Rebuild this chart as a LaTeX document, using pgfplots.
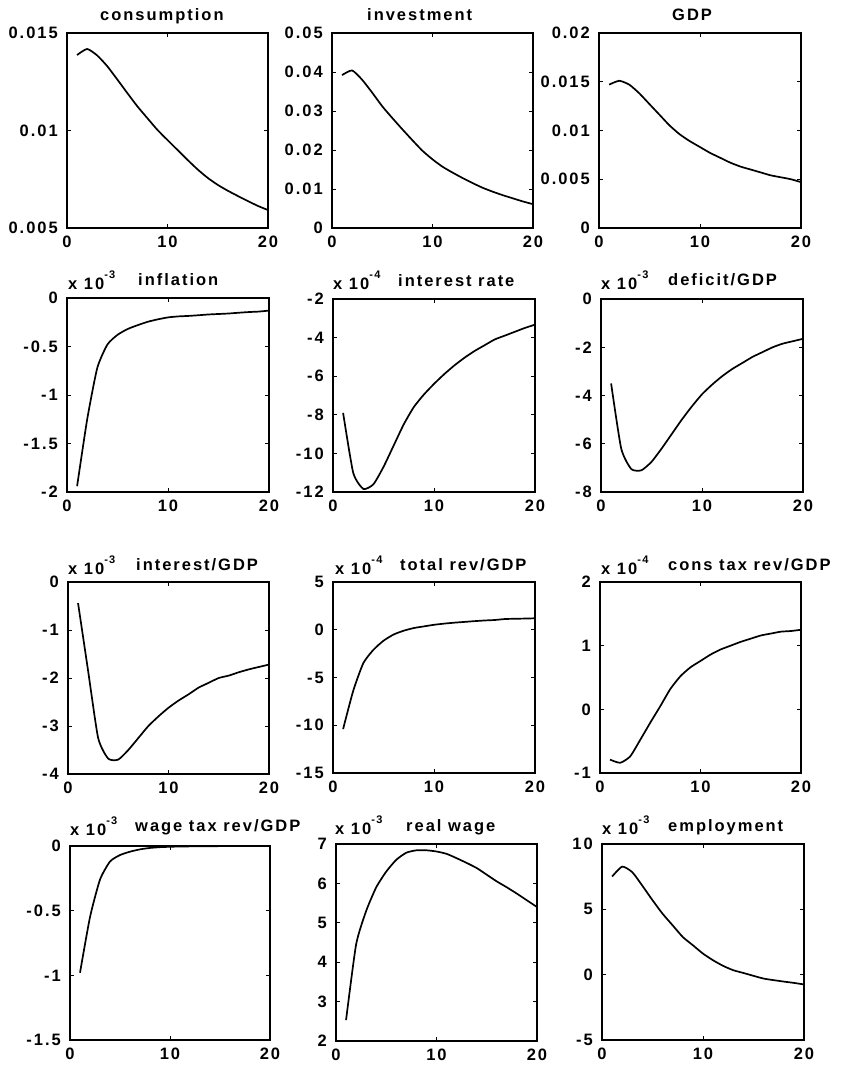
\documentclass[border=0pt]{standalone}
\usepackage{fontspec}
\setmainfont{Liberation Sans}
\newfontfamily\lab[LetterSpace=12]{Liberation Sans}
\usepackage{pgfplots}
\pgfplotsset{compat=1.18}
\newcommand\tf{\lab\bfseries\fontsize{16.5pt}{18pt}\selectfont}
\newcommand\supf{\lab\bfseries\fontsize{11pt}{12pt}\selectfont}
\newcommand\expo[1]{x 10\raisebox{11pt}{\supf #1}}
\pgfplotsset{panel/.style={scale only axis, anchor=south west,
  xmin=0, xmax=20, xtick={0,10,20}, xticklabels={0,10,20}, scaled ticks=false,
  axis background/.style={draw=black, line width=2.5pt},
  tick align=inside, major tick length=4pt,
  tick style={line width=0.8pt, black},
  xticklabel style={font=\tf, anchor=north, inner sep=0pt, yshift=-8pt},
  yticklabel style={font=\tf, anchor=east, inner sep=0pt, xshift=-9pt},
  cycle list={{black, mark=none}},
  every axis plot/.append style={line width=1.7pt, smooth, tension=0.35}}}
\begin{document}
\begin{tikzpicture}
\useasboundingbox (0,0) rectangle (844pt,1067pt);
% Row 1
\begin{axis}[panel, at={(67pt,839pt)}, width=201pt, height=195pt,
  ymin=0.005, ymax=0.015, ytick={0.005,0.01,0.015}, yticklabels={0.005,0.01,0.015}]
\addplot coordinates {(1,0.01387)(2,0.01418)(3,0.01385)(4,0.01330)(5,0.01262)(6,0.01192)(7,0.01124)(8,0.01063)(9,0.01003)(10,0.00951)(11,0.00900)(12,0.00849)(13,0.00800)(14,0.00757)(15,0.00721)(16,0.00691)(17,0.00664)(18,0.00638)(19,0.00613)(20,0.00592)};
\end{axis}
\begin{axis}[panel, at={(332pt,839pt)}, width=201pt, height=195pt,
  ymin=0, ymax=0.05, ytick={0,0.01,0.02,0.03,0.04,0.05}, yticklabels={0,0.01,0.02,0.03,0.04,0.05}]
\addplot coordinates {(1,0.0392)(2,0.0404)(3,0.0380)(4,0.0347)(5,0.0312)(6,0.0282)(7,0.0253)(8,0.0225)(9,0.0198)(10,0.0176)(11,0.0157)(12,0.0142)(13,0.0128)(14,0.0115)(15,0.0103)(16,0.0093)(17,0.0084)(18,0.0076)(19,0.0068)(20,0.0061)};
\end{axis}
\begin{axis}[panel, at={(599pt,839pt)}, width=202pt, height=195pt,
  ymin=0, ymax=0.02, ytick={0,0.005,0.01,0.015,0.02}, yticklabels={0,0.005,0.01,0.015,0.02}]
\addplot coordinates {(1,0.0147)(2,0.0151)(3,0.0147)(4,0.0138)(5,0.0127)(6,0.0116)(7,0.0105)(8,0.0096)(9,0.0089)(10,0.0083)(11,0.0077)(12,0.0072)(13,0.0067)(14,0.0063)(15,0.0060)(16,0.0057)(17,0.0054)(18,0.0052)(19,0.0050)(20,0.0047)};
\end{axis}
% Row 2
\begin{axis}[panel, at={(67pt,575pt)}, width=202pt, height=194pt,
  ymin=-2, ymax=0, ytick={-2,-1.5,-1,-0.5,0}, yticklabels={-2,-1.5,-1,-0.5,0}]
\addplot coordinates {(1,-1.94)(2,-1.25)(3,-0.72)(4,-0.48)(5,-0.38)(6,-0.32)(7,-0.28)(8,-0.245)(9,-0.22)(10,-0.20)(11,-0.19)(12,-0.185)(13,-0.178)(14,-0.17)(15,-0.165)(16,-0.16)(17,-0.152)(18,-0.145)(19,-0.14)(20,-0.13)};
\end{axis}
\begin{axis}[panel, at={(333pt,575pt)}, width=202pt, height=193pt,
  ymin=-12, ymax=-2, ytick={-12,-10,-8,-6,-4,-2}, yticklabels={-12,-10,-8,-6,-4,-2}]
\addplot coordinates {(1,-7.9)(2,-11.0)(3,-11.84)(4,-11.6)(5,-10.7)(6,-9.6)(7,-8.5)(8,-7.6)(9,-6.95)(10,-6.4)(11,-5.9)(12,-5.45)(13,-5.05)(14,-4.7)(15,-4.4)(16,-4.1)(17,-3.9)(18,-3.7)(19,-3.5)(20,-3.33)};
\end{axis}
\begin{axis}[panel, at={(601pt,575pt)}, width=202pt, height=193pt,
  ymin=-8, ymax=0, ytick={-8,-6,-4,-2,0}, yticklabels={-8,-6,-4,-2,0}]
\addplot coordinates {(1,-3.5)(2,-6.2)(3,-7.05)(4,-7.1)(5,-6.75)(6,-6.2)(7,-5.6)(8,-5.0)(9,-4.45)(10,-3.95)(11,-3.55)(12,-3.2)(13,-2.9)(14,-2.65)(15,-2.4)(16,-2.2)(17,-2.0)(18,-1.85)(19,-1.75)(20,-1.65)};
\end{axis}
% Row 3
\begin{axis}[panel, at={(68pt,293pt)}, width=201pt, height=192pt,
  ymin=-4, ymax=0, ytick={-4,-3,-2,-1,0}, yticklabels={-4,-3,-2,-1,0}]
\addplot coordinates {(1,-0.44)(2,-1.85)(3,-3.25)(4,-3.68)(5,-3.7)(6,-3.5)(7,-3.25)(8,-3.0)(9,-2.8)(10,-2.62)(11,-2.47)(12,-2.34)(13,-2.2)(14,-2.1)(15,-2.0)(16,-1.95)(17,-1.88)(18,-1.82)(19,-1.77)(20,-1.72)};
\end{axis}
\begin{axis}[panel, at={(333pt,294pt)}, width=202pt, height=191pt,
  ymin=-15, ymax=5, ytick={-15,-10,-5,0,5}, yticklabels={-15,-10,-5,0,5}]
\addplot coordinates {(1,-10.4)(2,-6.4)(3,-3.5)(4,-2.1)(5,-1.15)(6,-0.5)(7,-0.1)(8,0.18)(9,0.35)(10,0.52)(11,0.64)(12,0.74)(13,0.82)(14,0.9)(15,0.97)(16,1.02)(17,1.12)(18,1.15)(19,1.17)(20,1.2)};
\end{axis}
\begin{axis}[panel, at={(600pt,294pt)}, width=201pt, height=191pt,
  ymin=-1, ymax=2, ytick={-1,0,1,2}, yticklabels={-1,0,1,2}]
\addplot coordinates {(1,-0.79)(2,-0.84)(3,-0.74)(4,-0.48)(5,-0.21)(6,0.05)(7,0.32)(8,0.52)(9,0.66)(10,0.76)(11,0.86)(12,0.94)(13,1.0)(14,1.06)(15,1.11)(16,1.16)(17,1.19)(18,1.22)(19,1.23)(20,1.25)};
\end{axis}
% Row 4
\begin{axis}[panel, at={(70pt,27pt)}, width=200pt, height=194pt,
  ymin=-1.5, ymax=0, ytick={-1.5,-1,-0.5,0}, yticklabels={-1.5,-1,-0.5,0}]
\addplot coordinates {(1,-0.98)(2,-0.55)(3,-0.26)(4,-0.12)(5,-0.07)(6,-0.044)(7,-0.026)(8,-0.015)(9,-0.009)(10,-0.006)(11,-0.004)(12,-0.003)(13,-0.002)(14,-0.002)(15,-0.001)(16,-0.001)(17,-0.001)(18,-0.001)(19,-0.001)(20,-0.001)};
\end{axis}
\begin{axis}[panel, at={(336pt,26pt)}, width=201pt, height=197pt,
  ymin=2, ymax=7, ytick={2,3,4,5,6,7}, yticklabels={2,3,4,5,6,7}]
\addplot coordinates {(1,2.53)(2,4.45)(3,5.3)(4,5.9)(5,6.3)(6,6.6)(7,6.78)(8,6.84)(9,6.84)(10,6.81)(11,6.75)(12,6.64)(13,6.52)(14,6.39)(15,6.22)(16,6.05)(17,5.9)(18,5.74)(19,5.57)(20,5.4)};
\end{axis}
\begin{axis}[panel, at={(602pt,27pt)}, width=202pt, height=196pt,
  ymin=-5, ymax=10, ytick={-5,0,5,10}, yticklabels={-5,0,5,10}]
\addplot coordinates {(1,7.51)(2,8.27)(3,7.84)(4,6.8)(5,5.7)(6,4.66)(7,3.77)(8,2.88)(9,2.25)(10,1.61)(11,1.1)(12,0.67)(13,0.34)(14,0.13)(15,-0.09)(16,-0.3)(17,-0.42)(18,-0.53)(19,-0.63)(20,-0.75)};
\end{axis}
% Titles
\tikzset{tt/.style={anchor=base west, inner sep=0pt, font=\tf}}
\node[tt] at (100pt,1046.5pt) {consumption};
\node[tt] at (367pt,1046.5pt) {investment};
\node[tt] at (672pt,1046pt) {GDP};
\node[tt] at (68pt,777pt) {\expo{-3}};
\node[tt] at (138pt,781pt) {inflation};
\node[tt] at (333pt,777pt) {\expo{-4}};
\node[tt] at (398pt,780pt) {interest rate};
\node[tt] at (601pt,777pt) {\expo{-3}};
\node[tt] at (668pt,781pt) {deficit/GDP};
\node[tt] at (68pt,492pt) {\expo{-3}};
\node[tt] at (136pt,496pt) {interest/GDP};
\node[tt] at (335pt,492pt) {\expo{-4}};
\node[tt] at (400pt,496pt) {total rev/GDP};
\node[tt] at (601pt,492pt) {\expo{-4}};
\node[tt] at (668pt,496pt) {cons tax rev/GDP};
\node[tt] at (70pt,231pt) {\expo{-3}};
\node[tt] at (135pt,235.5pt) {wage tax rev/GDP};
\node[tt] at (335pt,232pt) {\expo{-3}};
\node[tt] at (406pt,235pt) {real wage};
\node[tt] at (602pt,232pt) {\expo{-3}};
\node[tt] at (668pt,235pt) {employment};
\end{tikzpicture}
\end{document}
